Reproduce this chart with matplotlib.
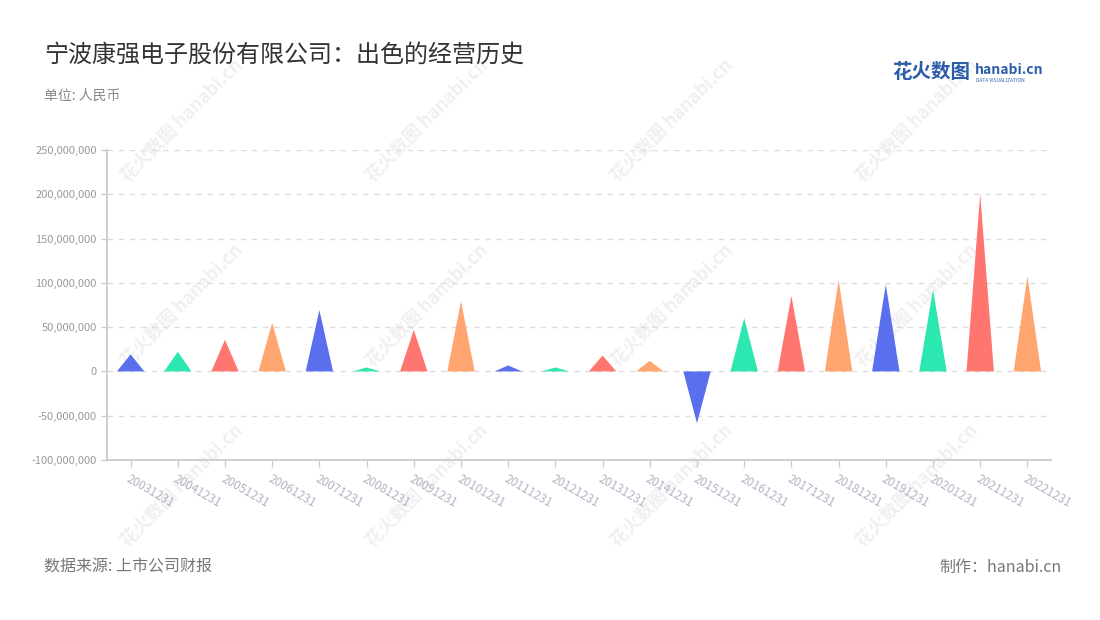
import matplotlib
matplotlib.use('Agg')
import matplotlib.pyplot as plt
from matplotlib.patches import Polygon
from matplotlib.ticker import FuncFormatter

plt.rcParams['font.family'] = ['Noto Sans CJK SC', 'DejaVu Sans']

dates = ['20031231', '20041231', '20051231', '20061231', '20071231',
         '20081231', '20091231', '20101231', '20111231', '20121231',
         '20131231', '20141231', '20151231', '20161231', '20171231',
         '20181231', '20191231', '20201231', '20211231', '20221231']
profit = [19.2e6, 22.2e6, 35.7e6, 54.9e6, 69.2e6,
          4.5e6, 47.0e6, 79.3e6, 6.8e6, 4.5e6,
          18.0e6, 12.0e6, -58.6e6, 60.2e6, 85.3e6,
          103.4e6, 98.1e6, 92.5e6, 200.4e6, 107.5e6]
palette = ['#5A6FEE', '#2CE8B0', '#FF7671', '#FFA56F']

fig = plt.figure(figsize=(11, 6.2), dpi=100)
ax = fig.add_axes([107 / 1100, 1 - 460 / 620, (1051 - 107) / 1100, 310 / 620])
ax.set_zorder(2)

# faint watermark grid (behind the axes)
for wx in [130, 375, 620, 865]:
    for wy in [185, 370, 550]:
        fig.text(wx / 1100, 1 - wy / 620, '花火数图 hanabi.cn', rotation=45,
                 fontsize=13, color='#f0f0f0', fontweight='bold',
                 ha='left', va='bottom', rotation_mode='anchor', zorder=0)

half = 0.29
for i, v in enumerate(profit):
    tri = Polygon([(i - half, 0), (i, v), (i + half, 0)], closed=True,
                  facecolor=palette[i % 4], edgecolor='none', zorder=3)
    ax.add_patch(tri)

ax.set_xlim(-0.5, len(dates) - 0.5)
ax.set_ylim(-100e6, 250e6)
ax.set_yticks([-100e6, -50e6, 0, 50e6, 100e6, 150e6, 200e6, 250e6])
ax.yaxis.set_major_formatter(FuncFormatter(lambda v, p: f'{int(v):,}'))
ax.set_xticks(range(len(dates)))
ax.set_xticklabels(dates, rotation=-30, ha='left', va='top',
                   rotation_mode='anchor')

ax.set_facecolor('none')
for s in ['top', 'right']:
    ax.spines[s].set_visible(False)
for s in ['left', 'bottom']:
    ax.spines[s].set_color('#cccccc')
    ax.spines[s].set_linewidth(1.3)
ax.tick_params(axis='y', colors='#cccccc', labelcolor='#999999',
               labelsize=8, length=4, width=1)
ax.tick_params(axis='x', colors='#cccccc', labelcolor='#b0b4c4',
               labelsize=8.5, length=5, width=1, pad=4)
ax.grid(axis='y', linestyle=(0, (4, 4)), color='#dddddd', linewidth=1)
ax.set_axisbelow(True)

fig.text(44 / 1100, 1 - 55 / 620, '宁波康强电子股份有限公司：出色的经营历史',
         fontsize=17.3, color='#333333', va='center', ha='left')
fig.text(44 / 1100, 1 - 96 / 620, '单位: 人民币', fontsize=10,
         color='#888888', va='center', ha='left')
fig.text(44 / 1100, 1 - 567 / 620, '数据来源: 上市公司财报', fontsize=11.5,
         color='#777777', va='center', ha='left')
fig.text(1062 / 1100, 1 - 567 / 620, '制作：hanabi.cn', fontsize=11.5,
         color='#777777', va='center', ha='right')

# logo
fig.text(892 / 1100, 1 - 72 / 620, '花火数图', fontsize=14, color='#2A5CAA',
         fontweight='bold', va='center', ha='left')
fig.text(975 / 1100, 1 - 70 / 620, 'hanabi.cn', fontsize=10, color='#2A5CAA',
         fontweight='bold', va='center', ha='left')
fig.text(976 / 1100, 1 - 80 / 620, 'DATA VISUALIZATION', fontsize=3.5,
         color='#2A5CAA', va='center', ha='left')

fig.savefig('out.png', dpi=100, facecolor='white')
